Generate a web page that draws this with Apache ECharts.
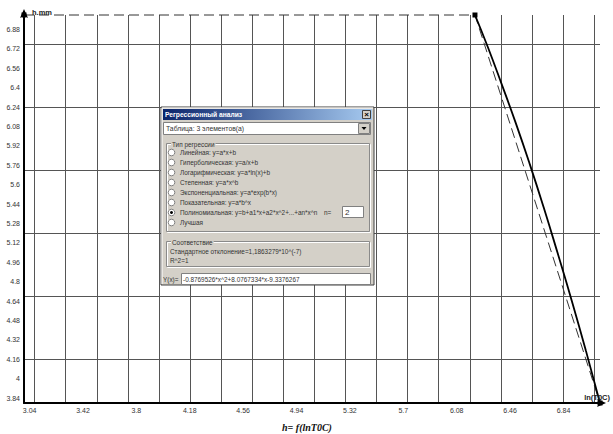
<!DOCTYPE html>
<html><head><meta charset="utf-8">
<script src="https://cdn.jsdelivr.net/npm/echarts@6/dist/echarts.min.js"></script>
<style>html,body{margin:0;padding:0;background:#fff}#c{width:613px;height:434px}</style>
</head><body><div id="c"></div>
<script>
// measured data points (x = ln(T), h in mm)
const xData = [3.0, 6.21, 7.1];
const hData = [7.0, 7.0, 3.8];
// regression curve
const fitX = [6.21, 6.3, 6.4, 6.5, 6.6, 6.7, 6.8, 6.9, 7.0, 7.1];
const fitH = [7.0, 6.74, 6.43, 6.11, 5.77, 5.41, 5.03, 4.64, 4.23, 3.80];
// tick labels
const xTickLabels = [3.04, 3.42, 3.8, 4.18, 4.56, 4.94, 5.32, 5.7, 6.08, 6.46, 6.84];
const yTickLabels = [3.84, 4, 4.16, 4.32, 4.48, 4.64, 4.8, 4.96, 5.12, 5.28, 5.44, 5.6, 5.76, 5.92, 6.08, 6.24, 6.4, 6.56, 6.72, 6.88];
// grid line positions
const xGridValues = [3.076, 3.297, 3.518, 3.740, 3.961, 4.182, 4.403, 4.624, 4.846, 5.067, 5.288, 5.509, 5.730, 5.952, 6.173, 6.394, 6.615, 6.836, 7.058];
const yGridValues = [4.16, 4.68, 5.2, 5.72, 6.24, 6.76];
// dialog texts
const dialogTitle = 'Регрессионный анализ';
const tableText = 'Таблица: 3 элементов(а)';
const groupTitle = 'Тип регрессии';
const regressionTypes = [
  'Линейная: y=a*x+b',
  'Гиперболическая: y=a/x+b',
  'Логарифмическая: y=a*ln(x)+b',
  'Степенная: y=a*x^b',
  'Экспоненциальная: y=a*exp(b*x)',
  'Показательная: y=a*b^x',
  'Полиномиальная: y=b+a1*x+a2*x^2+...+an*x^n',
  'Лучшая'
];
const checkedIndex = 6;
const fitTitle = 'Соответствие';
const fitLines = ['Стандартное отклонение=1,1863279*10^(-7)', 'R^2=1'];
const formulaText = '-0.8769526*x^2+8.0767334*x-9.3376267';

const fmt = v => String(+(+v).toFixed(2));
const G = [];
const FONT = '6.4px "Liberation Sans", Arial, sans-serif';
function rect(x, y, w, h, fill, stroke, z) {
  G.push({type: 'rect', silent: true, z: z || 100, shape: {x, y, width: w, height: h},
    style: {fill: fill, stroke: stroke || null, lineWidth: 1}});
}
function line(x1, y1, x2, y2, stroke, z) {
  G.push({type: 'line', silent: true, z: z || 101, shape: {x1, y1, x2, y2}, style: {stroke, lineWidth: 1}});
}
function text(x, y, t, extra) {
  G.push({type: 'text', silent: true, z: 105, x: x, y: y,
    style: Object.assign({text: t, fill: '#333', font: FONT, align: 'left', textAlign: 'left',
      verticalAlign: 'middle', textVerticalAlign: 'middle'}, extra || {})});
}
function groupBox(x, y, w, h, label) {
  rect(x + 0.5, y + 0.5, w, h, null, '#ffffff', 101);
  rect(x - 0.5, y - 0.5, w, h, null, '#8a8a8a', 102);
  text(x + 4, y, label, {backgroundColor: '#d4d0c8', padding: [0, 1]});
}
// dialog frame
const dx = 161, dy = 107, dw = 213, dh = 178;
rect(dx, dy, dw, dh, '#d4d0c8', '#404040', 100);
line(dx + 1, dy + 1, dx + dw - 1, dy + 1, '#ffffff');
line(dx + 1, dy + 1, dx + 1, dy + dh - 1, '#ffffff');
G.push({type: 'rect', silent: true, z: 101, shape: {x: 163, y: 109, width: 209, height: 11},
  style: {fill: {type: 'linear', x: 0, y: 0, x2: 1, y2: 0,
    colorStops: [{offset: 0, color: '#0a246a'}, {offset: 1, color: '#a6caf0'}]}}});
text(165, 114.5, dialogTitle, {fill: '#ffffff', font: 'bold 6.7px "Liberation Sans", Arial, sans-serif'});
rect(362.5, 110.5, 8, 8, '#d4d0c8', '#404040', 102);
text(366.5, 114.5, '×', {fill: '#000', font: 'bold 8px "Liberation Sans", Arial', align: 'center', textAlign: 'center'});
// combo
rect(163.5, 122.5, 207, 12, '#ffffff', '#808080', 101);
text(166, 128.5, tableText, {font: '6.8px "Liberation Sans", Arial, sans-serif'});
rect(358.5, 123.5, 11, 10, '#d4d0c8', '#808080', 102);
G.push({type: 'polygon', silent: true, z: 103, shape: {points: [[361.5, 127], [366.5, 127], [364, 130]]}, style: {fill: '#000'}});
// regression type group
groupBox(167, 144, 203, 88, groupTitle);
regressionTypes.forEach((t, i) => {
  const cy = 152.5 + i * 10;
  G.push({type: 'circle', silent: true, z: 103, shape: {cx: 171.5, cy: cy, r: 3.3}, style: {fill: '#fff', stroke: '#808080', lineWidth: 1}});
  if (i === checkedIndex) G.push({type: 'circle', silent: true, z: 104, shape: {cx: 171.5, cy: cy, r: 1.5}, style: {fill: '#000'}});
  text(180, cy, t);
});
text(324, 212.5, 'n=');
rect(342.5, 206.5, 21, 11, '#ffffff', '#808080', 103);
text(345, 212.5, '2', {font: '8px "Liberation Sans", Arial'});
// fit group
groupBox(167, 242, 203, 25, fitTitle);
text(170, 251.5, fitLines[0]);
text(170, 260.5, fitLines[1]);
// formula
text(163, 279, 'Y(x)=');
rect(181.5, 273.5, 189, 11, '#ffffff', '#808080', 101);
text(183, 279, formulaText);
// bottom caption
G.push({type: 'text', silent: true, z: 105, x: 307, y: 427,
  style: {text: 'h= f(lnT0C)', fill: '#111', font: 'italic bold 10px "Liberation Serif", "Times New Roman", serif',
    align: 'center', textAlign: 'center', verticalAlign: 'middle', textVerticalAlign: 'middle'}});

const chart = echarts.init(document.getElementById('c'), null, {renderer: 'svg'});
const axisFont = {fontSize: 7, color: '#333', fontFamily: '"Liberation Sans", Arial, sans-serif'};
chart.setOption({
  animation: false,
  backgroundColor: '#fff',
  grid: {left: 24, right: 13, top: 15, bottom: 31, containLabel: false, outerBoundsMode: 'none'},
  xAxis: [
    {type: 'value', min: 3.0, max: 7.1, position: 'bottom', z: 5,
      name: 'ln(T0C)', nameLocation: 'end', nameGap: 10,
      nameTextStyle: {fontSize: 7.5, fontWeight: 'bold', color: '#222', align: 'right', verticalAlign: 'bottom', padding: [0, 0, 2, 0]},
      axisLine: {show: true, onZero: false, symbol: ['none', 'arrow'], symbolSize: [6, 9], symbolOffset: [0, 6], lineStyle: {color: '#000', width: 2}},
      axisTick: {show: false},
      axisLabel: Object.assign({customValues: xTickLabels, formatter: fmt, margin: 4, showMinLabel: true, showMaxLabel: true, hideOverlap: false}, axisFont),
      splitLine: {show: false}},
    {type: 'value', min: 3.0, max: 7.1, position: 'bottom', z: 1,
      axisLine: {show: false}, axisLabel: {show: false},
      axisTick: {show: false, customValues: xGridValues},
      splitLine: {show: true, lineStyle: {color: '#555', width: 1}}}
  ],
  yAxis: [
    {type: 'value', min: 3.8, max: 7.0, position: 'left', z: 5,
      name: 'h.mm', nameLocation: 'end', nameGap: 3,
      nameTextStyle: {fontSize: 7.5, fontWeight: 'bold', color: '#222', align: 'left', verticalAlign: 'middle', padding: [0, 0, 0, 8]},
      axisLine: {show: true, onZero: false, symbol: ['none', 'arrow'], symbolSize: [6, 9], symbolOffset: [0, 6], lineStyle: {color: '#000', width: 2}},
      axisTick: {show: false},
      axisLabel: Object.assign({customValues: yTickLabels, formatter: fmt, margin: 4, showMinLabel: true, showMaxLabel: true, hideOverlap: false}, axisFont),
      splitLine: {show: false}},
    {type: 'value', min: 3.8, max: 7.0, position: 'left', z: 1,
      axisLine: {show: false}, axisLabel: {show: false},
      axisTick: {show: false, customValues: yGridValues},
      splitLine: {show: true, lineStyle: {color: '#555', width: 1}}}
  ],
  series: [
    {type: 'line', name: 'data', xAxisIndex: 0, yAxisIndex: 0, z: 3, clip: false,
      data: xData.map((x, i) => [x, hData[i]]),
      symbol: 'rect', symbolSize: 5, itemStyle: {color: '#000'},
      lineStyle: {color: '#333', width: 1, type: [10, 5]}},
    {type: 'line', name: 'fit', xAxisIndex: 0, yAxisIndex: 0, z: 4, smooth: true, showSymbol: false, symbol: 'none',
      data: fitX.map((x, i) => [x, fitH[i]]),
      lineStyle: {color: '#000', width: 1.8}}
  ],
  graphic: {elements: G}
});
</script></body></html>
